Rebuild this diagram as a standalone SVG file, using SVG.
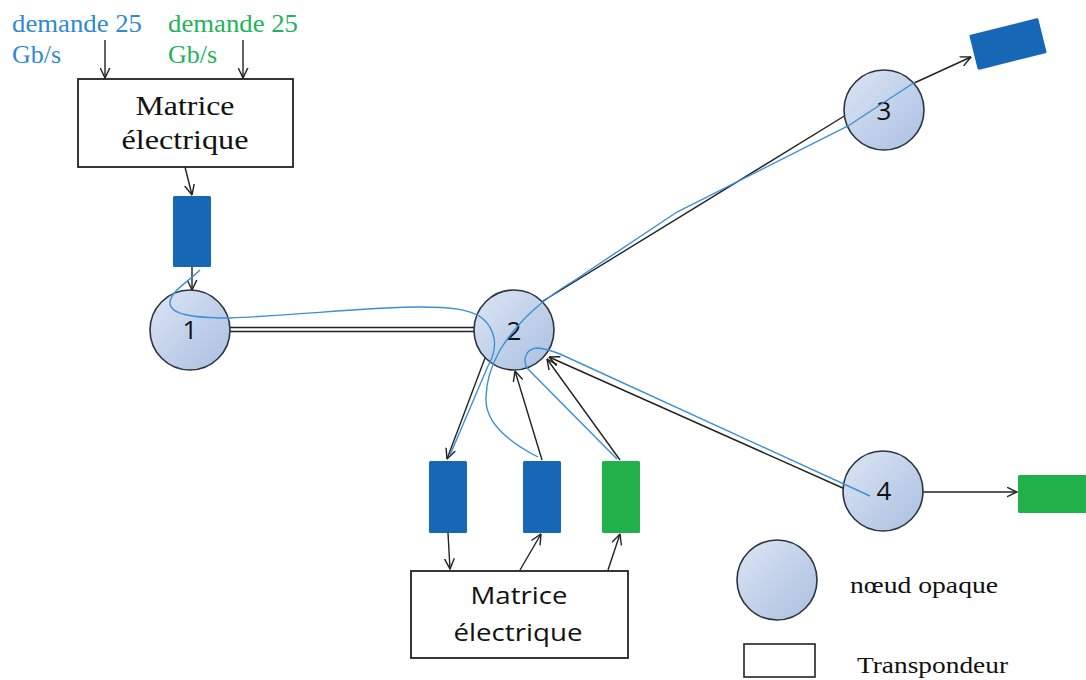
<svg xmlns="http://www.w3.org/2000/svg" width="1086" height="680" viewBox="0 0 1086 680">
<style>
.serif{font-family:"Liberation Serif","Times New Roman",serif;}
.sans{font-family:"Open Sans","Liberation Sans",sans-serif;}
.node{fill:url(#ng);stroke:#2b3440;stroke-width:1.6;}
.box{fill:#fff;stroke:#222;stroke-width:1.8;}
.blueT{fill:#1767b7;}
.greenT{fill:#22b04b;}
.arr{fill:none;stroke:#222;stroke-width:1.4;marker-end:url(#ah);}
.ln{fill:none;stroke:#222;stroke-width:1.4;}
.path{fill:none;stroke:#3a90d8;stroke-width:1.4;}
.num{font-size:26px;text-anchor:middle;fill:#111;}
</style>
<defs>
<linearGradient id="ng" x1="0" y1="0" x2="1" y2="1">
<stop offset="0" stop-color="#dce5f4"/>
<stop offset="1" stop-color="#aabfe0"/>
</linearGradient>
<marker id="ah" viewBox="0 0 10 10" refX="9.5" refY="5" markerWidth="11" markerHeight="11" markerUnits="userSpaceOnUse" orient="auto">
<path d="M0,0.5 L9.5,5 L0,9.5" fill="none" stroke="#222" stroke-width="1.3"/>
</marker>
</defs>
<rect width="1086" height="680" fill="#fff"/>

<g id="labels">
<text class="serif" x="12" y="32" font-size="26" textLength="130" lengthAdjust="spacingAndGlyphs" fill="#2e8ad2">demande 25</text>
<text class="serif" x="12" y="63" font-size="26" fill="#2e8ad2">Gb/s</text>
<text class="serif" x="168" y="32" font-size="26" textLength="130" lengthAdjust="spacingAndGlyphs" fill="#22b25a">demande 25</text>
<text class="serif" x="168" y="63" font-size="26" fill="#22b25a">Gb/s</text>
</g>

<g id="connectors">
<line class="arr" x1="105" y1="40" x2="105" y2="78"/>
<line class="arr" x1="243" y1="40" x2="243" y2="78"/>
<line class="arr" x1="185" y1="167" x2="192" y2="195"/>
<line class="arr" x1="192" y1="267" x2="192" y2="290"/>
<line class="ln" x1="230" y1="327.5" x2="474" y2="327.5" stroke-width="1.2"/>
<line class="ln" x1="230" y1="331.5" x2="474" y2="331.5" stroke-width="1.2"/>
<line class="ln" x1="543" y1="301" x2="846" y2="115"/>
<line class="arr" x1="912" y1="84" x2="971" y2="57"/>
<line class="arr" x1="485" y1="358" x2="447" y2="459"/>
<line class="arr" x1="542" y1="460" x2="515" y2="371"/>
<line class="arr" x1="620" y1="460" x2="547" y2="359"/>
<line class="arr" x1="845" y1="489" x2="549" y2="357"/>
<line class="arr" x1="923" y1="492" x2="1017" y2="492"/>
<line class="arr" x1="448" y1="533" x2="450" y2="569"/>
<line class="arr" x1="520" y1="570" x2="541" y2="534"/>
<line class="arr" x1="608" y1="570" x2="620" y2="534"/>
</g>

<g id="matrice-top">
<rect class="box" x="78" y="79" width="215" height="88"/>
<text class="serif" x="185" y="115" font-size="28" text-anchor="middle" textLength="99" lengthAdjust="spacingAndGlyphs" fill="#111">Matrice</text>
<text class="serif" x="185" y="149" font-size="28" text-anchor="middle" textLength="127" lengthAdjust="spacingAndGlyphs" fill="#111">électrique</text>
</g>

<g id="transp-top">
<rect class="blueT" x="173" y="196" width="38" height="71" rx="1.5"/>
</g>

<g id="node1">
<circle class="node" cx="190" cy="330" r="40"/>
<text class="sans num" x="190" y="339">1</text>
</g>
<g id="node2">
<circle class="node" cx="514" cy="330" r="40"/>
<text class="sans num" x="514" y="340">2</text>
</g>
<g id="node3">
<circle class="node" cx="884" cy="110" r="40"/>
<text class="sans num" x="884" y="120">3</text>
</g>
<g id="node4">
<circle class="node" cx="883" cy="491" r="40"/>
<text class="sans num" x="884" y="500">4</text>
</g>

<g id="lightpaths">
<path class="path" d="M200,270 C188,282 172,290 170,302 C169,314 190,318 230,318 C300,315 370,307 420,307 C450,307 470,309 482,318 C494,328 500,345 488,366 L450,455"/>
<path class="path" d="M538,457 C505,440 485,420 486,398 C486,382 490,368 500,350 C520,318 545,298 575,280 L677,212 L848,126 L915,82"/>
<path class="path" d="M617,459 L527,368 C522,358 527,348 538,348 C546,349 552,351 560,354 L870,496"/>
</g>

<g id="transp-3">
<rect class="blueT" x="-35.5" y="-18" width="71" height="36" rx="1.5" transform="translate(1008,44) rotate(-14)"/>
</g>
<g id="transp-4">
<rect class="greenT" x="1018" y="475" width="70" height="38" rx="1.5"/>
</g>

<g id="transp-b1"><rect class="blueT" x="429" y="461" width="38" height="72" rx="1.5"/></g>
<g id="transp-b2"><rect class="blueT" x="523" y="461" width="38" height="72" rx="1.5"/></g>
<g id="transp-b3"><rect class="greenT" x="602" y="461" width="38" height="72" rx="1.5"/></g>

<g id="matrice-bottom">
<rect class="box" x="411" y="571" width="217" height="87"/>
<text class="sans" x="519" y="604" font-size="24" text-anchor="middle" textLength="97" lengthAdjust="spacingAndGlyphs" fill="#111">Matrice</text>
<text class="sans" x="518" y="641" font-size="24" text-anchor="middle" textLength="129" lengthAdjust="spacingAndGlyphs" fill="#111">électrique</text>
</g>

<g id="legend">
<circle class="node" cx="777" cy="580" r="40"/>
<text class="serif" x="850" y="593" font-size="24" textLength="148" lengthAdjust="spacingAndGlyphs" fill="#111">nœud opaque</text>
<rect x="744" y="644" width="71" height="33" fill="#fff" stroke="#222" stroke-width="1.6"/>
<text class="serif" x="857" y="673" font-size="24" textLength="151" lengthAdjust="spacingAndGlyphs" fill="#111">Transpondeur</text>
</g>
</svg>
